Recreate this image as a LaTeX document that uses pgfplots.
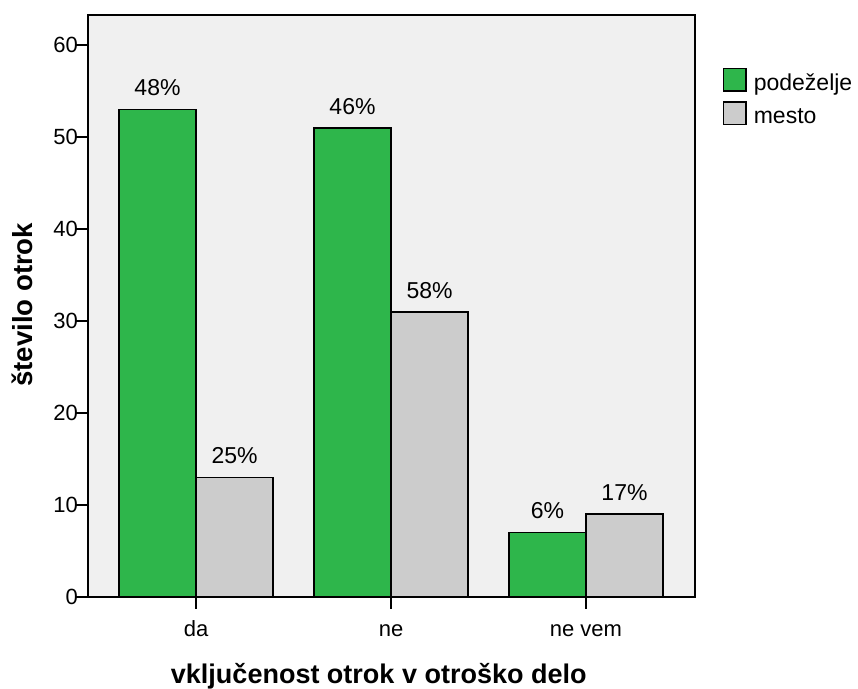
\documentclass[border=0pt]{standalone}
\usepackage{fontspec}
\setmainfont{Liberation Sans}
\usepackage{pgfplots}
\pgfplotsset{compat=1.18}
\definecolor{gr}{RGB}{46,182,75}
\definecolor{gy}{RGB}{204,204,204}
\definecolor{bg}{RGB}{240,240,240}
\begin{document}
\begin{tikzpicture}
\path[use as bounding box] (0pt,0pt) rectangle (429pt,344.5pt);
\begin{axis}[
  at={(44pt,46pt)}, anchor=south west,
  scale only axis, width=303.5pt, height=291pt,
  xmin=-0.554, xmax=2.559, ymin=0, ymax=63.26,
  ybar=0pt, bar width=0.395,
  axis background/.style={fill=bg},
  axis line style={black, line width=0.75pt},
  xtick={0,1,2}, xticklabels={da, ne, ne vem},
  ytick={0,10,20,30,40,50,60},
  tick align=outside, major tick length=6pt,
  xtick pos=bottom, ytick pos=left,
  tick style={black, line width=0.75pt},
  tick label style={font=\fontsize{11}{13}\selectfont},
  /pgf/number format/assume math mode=true,
  yticklabel style={xshift=4.5pt},
  xticklabel style={anchor=base, yshift=-14pt},
  xlabel={vključenost otrok v otroško delo},
  ylabel={število otrok},
  xlabel style={font=\bfseries\fontsize{13.5}{16}\selectfont, at={(axis description cs:0.479,-0.149)}, anchor=base},
  ylabel style={font=\bfseries\fontsize{13.8}{16}\selectfont, at={(axis description cs:-0.109,0.502)}, anchor=center},
  point meta=explicit symbolic,
  nodes near coords,
  every node near coord/.append style={font=\fontsize{11.5}{13}\selectfont, anchor=base, inner sep=0pt, yshift=6.8pt, black},
  legend style={at={(axis description cs:1.046,0.9095)}, anchor=north west, draw=none, fill=none, inner sep=0pt, outer sep=0pt,
    font=\fontsize{11.5}{13}\selectfont, row sep=3.8pt, column sep=3.5pt, nodes={inner sep=0pt}},
  legend cell align=left,
  legend image code/.code={\draw[#1, line width=0.75pt] (0pt,-3.5pt) rectangle (11.2pt,7.7pt);},
]
\addplot[fill=gr, draw=black, line width=0.75pt]
  coordinates {(0,53) [48\%] (1,51) [46\%] (2,7) [6\%]};
\addplot[fill=gy, draw=black, line width=0.75pt]
  coordinates {(0,13) [25\%] (1,31) [58\%] (2,9) [17\%]};
\legend{podeželje, mesto}
\end{axis}
\end{tikzpicture}
\end{document}
